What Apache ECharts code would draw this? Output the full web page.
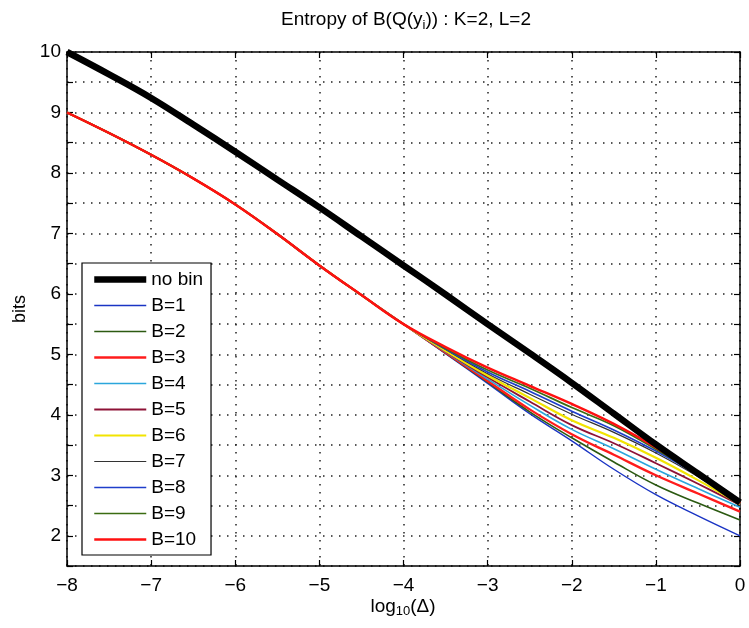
<!DOCTYPE html>
<html>
<head>
<meta charset="utf-8">
<script src="https://cdn.jsdelivr.net/npm/echarts@6/dist/echarts.min.js"></script>
<style>html,body{margin:0;padding:0;background:#fff;}#c{width:749px;height:628px;}</style>
</head>
<body>
<div id="c"></div>
<script>
// ---- data ----
var xs = [-8, -7.5, -7, -6.5, -6, -5.5, -5, -4.5, -4, -3.5, -3, -2.5, -2, -1.5, -1, -0.5, 0];
var seriesNames = ['no bin', 'B=1', 'B=2', 'B=3', 'B=4', 'B=5', 'B=6', 'B=7', 'B=8', 'B=9', 'B=10'];
var noBin = [10.0, 9.63, 9.24, 8.80, 8.35, 7.89, 7.43, 6.95, 6.47, 5.99, 5.5, 5.02, 4.53, 4.02, 3.51, 3.03, 2.55];
var commonHead = [9.0, 8.66, 8.30, 7.91, 7.48, 6.99, 6.47, 5.98, 5.5];
var tailB1  = [5.01, 4.52, 4.02, 3.57, 3.10, 2.68, 2.33, 2.00];
var tailB2  = [5.02, 4.54, 4.05, 3.62, 3.22, 2.84, 2.54, 2.26];
var tailB3  = [5.03, 4.56, 4.09, 3.68, 3.34, 3.00, 2.70, 2.40];
var tailB4  = [5.04, 4.59, 4.16, 3.76, 3.44, 3.10, 2.78, 2.47];
var tailB5  = [5.05, 4.62, 4.22, 3.83, 3.53, 3.20, 2.86, 2.51];
var tailB6  = [5.06, 4.65, 4.28, 3.91, 3.62, 3.29, 2.92, 2.52];
var tailB7  = [5.08, 4.68, 4.34, 4.01, 3.71, 3.37, 2.98, 2.53];
var tailB8  = [5.09, 4.71, 4.39, 4.06, 3.75, 3.40, 3.00, 2.53];
var tailB9  = [5.10, 4.74, 4.44, 4.12, 3.82, 3.43, 3.01, 2.54];
var tailB10 = [5.12, 4.78, 4.48, 4.18, 3.85, 3.46, 3.02, 2.54];
var xTicks = [-8, -7, -6, -5, -4, -3, -2, -1, 0];
var yTicks = [2, 3, 4, 5, 6, 7, 8, 9, 10];

// ---- styles ----
var FONT = '"Liberation Sans", Arial, Helvetica, sans-serif';
var styles = [
  {color: '#000000', width: 6.5},
  {color: '#1a34c4', width: 1.4},
  {color: '#2c5a12', width: 1.6},
  {color: '#ff1c1c', width: 2.3},
  {color: '#2ba6dc', width: 1.6},
  {color: '#8e1236', width: 1.8},
  {color: '#f2e400', width: 2.2},
  {color: '#333333', width: 1.2},
  {color: '#1f3ecb', width: 1.7},
  {color: '#3b6c12', width: 1.7},
  {color: '#ff1010', width: 2.4}
];
var tails = [tailB1, tailB2, tailB3, tailB4, tailB5, tailB6, tailB7, tailB8, tailB9, tailB10];

function pairs(vals) { return xs.map(function (x, i) { return [x, vals[i]]; }); }

var series = [];
series.push({
  name: seriesNames[0], type: 'line', data: pairs(noBin), symbol: 'none', smooth: 0.4,
  lineStyle: {color: styles[0].color, width: styles[0].width, cap: 'butt'},
  itemStyle: {color: styles[0].color}, z: 5, animation: false
});
for (var k = 0; k < tails.length; k++) {
  series.push({
    name: seriesNames[k + 1], type: 'line', data: pairs(commonHead.concat(tails[k])),
    symbol: 'none', smooth: 0.4,
    lineStyle: {color: styles[k + 1].color, width: styles[k + 1].width},
    itemStyle: {color: styles[k + 1].color}, z: 2, animation: false
  });
}
var legendData = seriesNames.map(function (n, i) {
  return {name: n, lineStyle: {width: styles[i].width, color: styles[i].color}, itemStyle: {opacity: 0}};
});

function minus(v) { return String(v).replace('-', '\u2212'); }

var chart = echarts.init(document.getElementById('c'), null, {renderer: 'canvas'});
chart.setOption({
  backgroundColor: '#ffffff',
  animation: false,
  textStyle: {fontFamily: FONT},
  grid: {left: 67, right: 9, top: 52, bottom: 62, show: false},
  legend: {
    orient: 'vertical', left: 82, top: 263,
    padding: [7, 8, 6, 9],
    itemWidth: 52, itemHeight: 14, itemGap: 7,
    backgroundColor: '#ffffff', borderColor: '#000', borderWidth: 1.2,
    itemStyle: {opacity: 0},
    textStyle: {fontSize: 19, lineHeight: 18, color: '#000', fontFamily: FONT},
    data: legendData
  },
  xAxis: [{
    type: 'value', min: -8, max: 0, interval: 1, position: 'bottom',
    axisLine: {show: true, onZero: false, lineStyle: {color: '#000', width: 1.5}},
    axisTick: {show: true, inside: true, length: 6, lineStyle: {color: '#000', width: 1.2}},
    axisLabel: {fontSize: 19, color: '#000', margin: 10, fontFamily: FONT,
      formatter: function (v) { return xTicks.indexOf(v) >= 0 ? minus(v) : ''; }},
    splitLine: {show: true, lineStyle: {color: '#222', type: [1.5, 6.5], width: 1.5}}
  }, {
    type: 'value', min: -8, max: 0, interval: 1, position: 'top',
    axisLine: {show: true, onZero: false, lineStyle: {color: '#000', width: 1.5}},
    axisTick: {show: true, inside: true, length: 6, lineStyle: {color: '#000', width: 1.2}},
    axisLabel: {show: false}, splitLine: {show: false}
  }],
  yAxis: [{
    type: 'value', min: 1.5, max: 10, interval: 0.5, position: 'left',
    name: 'bits', nameLocation: 'middle', nameGap: 34,
    nameTextStyle: {fontSize: 18, color: '#000', fontFamily: FONT},
    axisLine: {show: true, onZero: false, lineStyle: {color: '#000', width: 1.5}},
    axisTick: {show: true, inside: true, length: 6, lineStyle: {color: '#000', width: 1.2}},
    axisLabel: {fontSize: 19, color: '#000', margin: 6, fontFamily: FONT,
      formatter: function (v) { return yTicks.indexOf(v) >= 0 ? String(v) : ''; }},
    splitLine: {show: true, lineStyle: {color: '#222', type: [1.5, 6.5], width: 1.5}}
  }, {
    type: 'value', min: 1.5, max: 10, interval: 0.5, position: 'right',
    axisLine: {show: true, onZero: false, lineStyle: {color: '#000', width: 1.5}},
    axisTick: {show: true, inside: true, length: 6, lineStyle: {color: '#000', width: 1.2}},
    axisLabel: {show: false}, splitLine: {show: false}
  }],
  graphic: [{
    type: 'text', x: 406, y: 20, silent: true,
    style: {
      text: '{a|Entropy of B(Q(y}{s|i}{a|)) : K=2, L=2}',
      align: 'center', verticalAlign: 'middle', fill: '#000',
      rich: {
        a: {fontSize: 19, lineHeight: 24, fontFamily: FONT, fill: '#000'},
        s: {fontSize: 13, lineHeight: 8, verticalAlign: 'bottom', fontFamily: FONT, fill: '#000'}
      }
    }
  }, {
    type: 'text', x: 403, y: 607, silent: true,
    style: {
      text: '{a|log}{s|10}{a|(\u0394)}',
      align: 'center', verticalAlign: 'middle', fill: '#000',
      rich: {
        a: {fontSize: 19, lineHeight: 22, fontFamily: FONT, fill: '#000'},
        s: {fontSize: 13, lineHeight: 8, verticalAlign: 'bottom', fontFamily: FONT, fill: '#000'}
      }
    }
  }],
  series: series
});
</script>
</body>
</html>
